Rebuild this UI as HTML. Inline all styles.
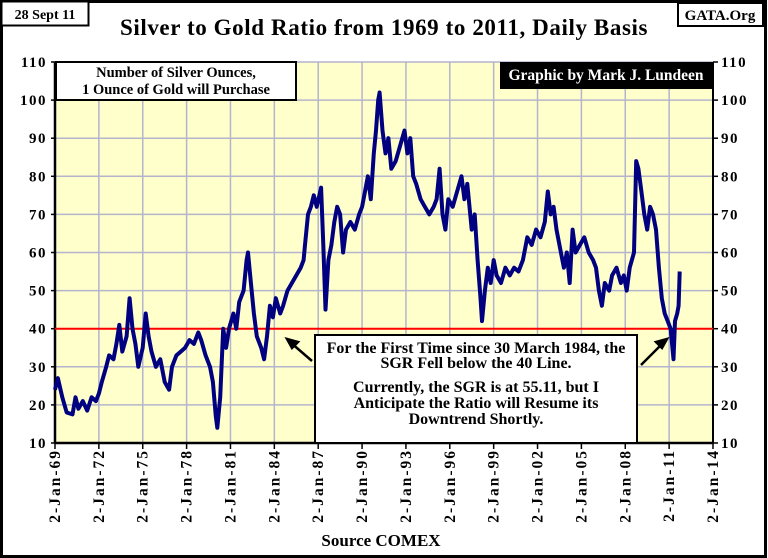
<!DOCTYPE html>
<html><head><meta charset="utf-8"><style>
html,body{margin:0;padding:0;background:#fff;}
svg{display:block;font-family:"Liberation Serif",serif;font-weight:bold;}
</style></head><body>
<svg id="chart" width="768" height="558" viewBox="0 0 768 558">
<rect x="1.5" y="1.5" width="764" height="555" fill="#fff" stroke="#000" stroke-width="3"/>
<rect x="55" y="62" width="658" height="381" fill="#ffffcc"/>
<g id="grid"></g>
<g id="axes"></g>
<line id="line40" stroke="#ff0000" stroke-width="2"/>
<path id="series" fill="none" stroke="#000080" stroke-width="4" stroke-linejoin="round"/>
<rect x="1.5" y="1.5" width="87" height="24" fill="#fff" stroke="#000" stroke-width="2"/>
<text x="45" y="19" font-size="14" text-anchor="middle">28 Sept 11</text>
<rect x="678" y="3" width="85" height="23" fill="#fff" stroke="#000" stroke-width="2"/>
<text x="720" y="20" font-size="15" text-anchor="middle">GATA.Org</text>
<text x="384" y="35" font-size="23" letter-spacing="0.6" text-anchor="middle">Silver to Gold Ratio from 1969 to 2011, Daily Basis</text>
<rect x="56" y="62" width="240" height="38" fill="#fff" stroke="#000" stroke-width="2"/>
<text x="176" y="77" font-size="14.5" text-anchor="middle">Number of Silver Ounces,</text>
<text x="176" y="94" font-size="14.5" text-anchor="middle">1 Ounce of Gold will Purchase</text>
<rect x="500" y="62" width="213" height="27" fill="#000"/>
<text x="606" y="80" font-size="15.5" fill="#fff" text-anchor="middle">Graphic by Mark J. Lundeen</text>
<rect x="315" y="335" width="322" height="108" fill="#fff" stroke="#000" stroke-width="2"/>
<g font-size="16" text-anchor="middle">
<text x="476" y="353">For the First Time since 30 March 1984, the</text>
<text x="476" y="368">SGR Fell below the 40 Line.</text>
<text x="476" y="392">Currently, the SGR is at 55.11, but I</text>
<text x="476" y="408">Anticipate the Ratio will  Resume its</text>
<text x="476" y="424">Downtrend Shortly.</text>
</g>
<g stroke="#000" stroke-width="2.5" fill="#000">
<line x1="312" y1="361" x2="290" y2="342"/><polygon points="287,339 298,342 292,348" />
<line x1="641" y1="365" x2="664" y2="342"/><polygon points="667,339 656,342 662,348"/>
</g>
<text x="381" y="546" font-size="17" text-anchor="middle">Source COMEX</text>
</svg>
<script>
const yTicks=[10,20,30,40,50,60,70,80,90,100,110];
const xTickYears=[1969,1972,1975,1978,1981,1984,1987,1990,1993,1996,1999,2002,2005,2008,2011,2014];
const xTickLabels=["2-Jan-69","2-Jan-72","2-Jan-75","2-Jan-78","2-Jan-81","2-Jan-84","2-Jan-87","2-Jan-90","2-Jan-93","2-Jan-96","2-Jan-99","2-Jan-02","2-Jan-05","2-Jan-08","2-Jan-11","2-Jan-14"];
const dates=[1969.0,1969.2,1969.5,1969.8,1970.2,1970.4,1970.6,1970.9,1971.2,1971.5,1971.8,1972.0,1972.2,1972.5,1972.7,1973.0,1973.2,1973.4,1973.6,1973.9,1974.1,1974.3,1974.5,1974.7,1975.0,1975.2,1975.4,1975.6,1975.9,1976.2,1976.5,1976.8,1977.0,1977.3,1977.6,1977.9,1978.2,1978.5,1978.8,1979.0,1979.3,1979.6,1979.8,1980.0,1980.1,1980.3,1980.5,1980.7,1980.9,1981.2,1981.4,1981.6,1981.9,1982.1,1982.2,1982.4,1982.6,1982.8,1983.1,1983.3,1983.5,1983.7,1983.9,1984.1,1984.4,1984.6,1984.9,1985.2,1985.5,1985.8,1986.0,1986.1,1986.3,1986.5,1986.7,1986.9,1987.2,1987.35,1987.5,1987.7,1987.9,1988.1,1988.3,1988.5,1988.7,1988.9,1989.2,1989.5,1989.8,1990.0,1990.2,1990.4,1990.6,1990.8,1990.95,1991.1,1991.2,1991.4,1991.6,1991.8,1992.0,1992.3,1992.6,1992.9,1993.1,1993.3,1993.5,1993.7,1994.0,1994.3,1994.6,1994.9,1995.1,1995.3,1995.5,1995.7,1995.9,1996.2,1996.5,1996.8,1997.0,1997.2,1997.5,1997.7,1997.9,1998.1,1998.2,1998.4,1998.6,1998.8,1999.0,1999.2,1999.5,1999.8,2000.1,2000.4,2000.7,2001.0,2001.3,2001.6,2001.9,2002.2,2002.5,2002.7,2002.9,2003.1,2003.3,2003.6,2003.8,2004.0,2004.2,2004.4,2004.6,2004.9,2005.2,2005.5,2005.8,2006.0,2006.2,2006.4,2006.6,2006.9,2007.1,2007.4,2007.7,2007.9,2008.1,2008.3,2008.6,2008.75,2008.9,2009.1,2009.3,2009.5,2009.7,2009.9,2010.1,2010.3,2010.5,2010.7,2010.9,2011.1,2011.3,2011.4,2011.55,2011.65,2011.72];
const ratios=[24,27,22,18,17.5,22,19,21,18.5,22,21,23,26,30,33,32,36,41,34,38,48,40,36,30,35,44,38,34,30,32,26,24,30,33,34,35,37,36,39,37,33,30,26,17,14,22,40,35,40,44,40,47,50,58,60,52,44,38,35,32,38,46,43,48,44,46,50,52,54,56,58,62,70,72,75,72,77,62,45,58,62,68,72,70,60,66,68,66,70,72,76,80,74,86,92,100,102,92,86,90,82,84,88,92,86,90,80,78,74,72,70,72,74,82,70,66,74,72,76,80,74,78,66,70,58,48,42,50,56,52,58,54,52,56,54,56,55,58,64,62,66,64,68,76,70,72,66,60,56,60,52,66,60,62,64,60,58,56,50,46,52,50,54,56,52,54,50,56,60,84,82,76,70,66,72,70,66,56,48,44,42,40,32,42,44,46,55];
const X0=55,X1=713,Y0=443,Y1=62,YR0=1969,YR1=2014,V0=10,V1=110;
function xs(y){return X0+(y-YR0)/(YR1-YR0)*(X1-X0);}
function ys(v){return Y0-(v-V0)/(V1-V0)*(Y0-Y1);}
const NS="http://www.w3.org/2000/svg";
const grid=document.getElementById('grid'),axes=document.getElementById('axes');
function mk(tag,attrs,parent){const e=document.createElementNS(NS,tag);for(const k in attrs)e.setAttribute(k,attrs[k]);parent.appendChild(e);return e;}
yTicks.forEach(v=>{
  const g=mk('line',{x1:X0,x2:X1,y1:ys(v),y2:ys(v),stroke:'#b4b4cc','stroke-width':1.5},grid);
  
  
  const tl=mk('text',{x:47,y:ys(v)+5,'font-size':15,'letter-spacing':1.5,'text-anchor':'end'},axes);tl.textContent=v;
  
  
  const tr=mk('text',{x:721,y:ys(v)+5,'font-size':15,'letter-spacing':1.5,'text-anchor':'start'},axes);tr.textContent=v;
  
  
  mk('line',{x1:X0-4,x2:X0,y1:ys(v),y2:ys(v),stroke:'#000','stroke-width':1.5},axes);
  mk('line',{x1:X1,x2:X1+5,y1:ys(v),y2:ys(v),stroke:'#000','stroke-width':1.5},axes);
});
xTickYears.forEach((yr,i)=>{
  const x=xs(yr);
  const g=mk('line',{x1:x,x2:x,y1:Y1,y2:Y0,stroke:'#b4b4cc','stroke-width':1.5},grid);
  
  
  mk('line',{x1:x,x2:x,y1:Y0,y2:Y0+6,stroke:'#000','stroke-width':1.5},axes);
  const t=mk('text',{x:0,y:0,'font-size':15.5,'letter-spacing':2,'text-anchor':'end',transform:`translate(${x+5},${Y0+6}) rotate(-90)`},axes);
  t.textContent=xTickLabels[i];
  
  
});
mk('line',{x1:X0,x2:X0,y1:Y1,y2:Y0,stroke:'#000','stroke-width':2.5},axes);
mk('line',{x1:X1,x2:X1,y1:Y1,y2:Y0,stroke:'#000','stroke-width':2},axes);
mk('line',{x1:X0,x2:X1,y1:Y0,y2:Y0,stroke:'#000','stroke-width':2.5},axes);
const l40=document.getElementById('line40');
l40.setAttribute('x1',X0);l40.setAttribute('x2',X1);l40.setAttribute('y1',ys(40));l40.setAttribute('y2',ys(40));
document.getElementById('series').setAttribute('d',dates.map((d,i)=>(i?'L':'M')+xs(d).toFixed(1)+','+ys(ratios[i]).toFixed(1)).join(''));
</script>
</body></html>
